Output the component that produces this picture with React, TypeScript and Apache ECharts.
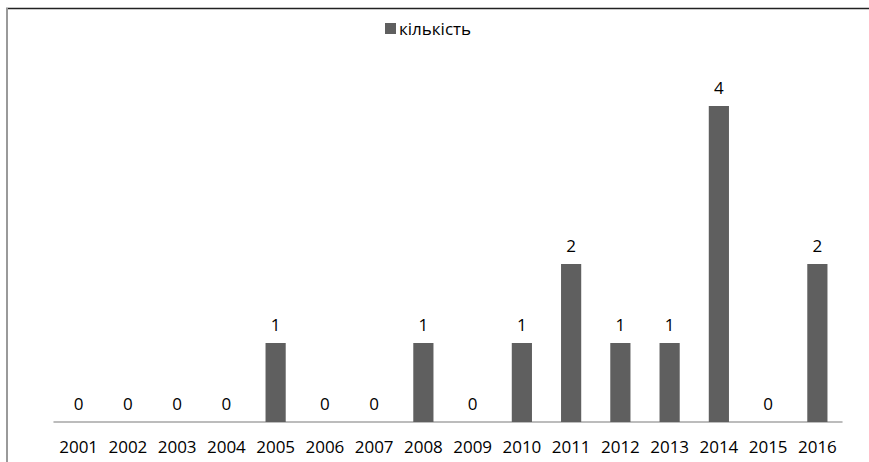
import React, { useEffect, useRef } from "react";
import * as echarts from "echarts";

const years = ["2001", "2002", "2003", "2004", "2005", "2006", "2007", "2008", "2009", "2010", "2011", "2012", "2013", "2014", "2015", "2016"];
const counts = [0, 0, 0, 0, 1, 0, 0, 1, 0, 1, 2, 1, 1, 4, 0, 2];
const seriesName = "кількість";

const FONT = "'Open Sans', sans-serif";

export default function App() {
  const ref = useRef<HTMLDivElement>(null);
  useEffect(() => {
    if (!ref.current) return;
    const chart = echarts.init(ref.current, null, { renderer: "svg" });
    chart.setOption({
      animation: false,
      backgroundColor: "#ffffff",
      textStyle: { fontFamily: FONT },
      graphic: [
        { type: "line", shape: { x1: 6, y1: 8.5, x2: 869, y2: 8.5 }, style: { stroke: "#222222", lineWidth: 1.5 } },
        { type: "line", shape: { x1: 7, y1: 8, x2: 7, y2: 462 }, style: { stroke: "#9a9a9a", lineWidth: 2 } },
      ],
      legend: {
        left: 380,
        top: 15,
        padding: 5,
        itemWidth: 11,
        itemHeight: 11,
        itemGap: 4,
        symbolKeepAspect: false,
        itemStyle: { color: "#5f5f5f" },
        icon: "rect",
        textStyle: { fontFamily: FONT, fontSize: 17, color: "#000", padding: [0, 0, 0, -2] },
        data: [seriesName],
      },
      grid: { left: 54, right: 27, top: 106, bottom: 40, containLabel: false },
      xAxis: {
        type: "category",
        data: years,
        axisTick: { show: false },
        axisLine: { lineStyle: { color: "#a6a6a6", width: 1.5 } },
        axisLabel: { color: "#000", fontFamily: FONT, fontSize: 17, margin: 16, interval: 0 },
      },
      yAxis: {
        type: "value",
        min: 0,
        max: 4,
        show: false,
        splitLine: { show: false },
      },
      series: [
        {
          name: seriesName,
          type: "bar",
          data: counts,
          barWidth: "41%",
          itemStyle: { color: "#5f5f5f" },
          label: {
            show: true,
            position: "top",
            distance: 10,
            color: "#000",
            fontFamily: FONT,
            fontSize: 17,
          },
        },
      ],
    });
    return () => chart.dispose();
  }, []);
  return (
    <div
      ref={ref}
      style={{ position: "fixed", left: 0, top: 0, width: 869, height: 462 }}
    />
  );
}
